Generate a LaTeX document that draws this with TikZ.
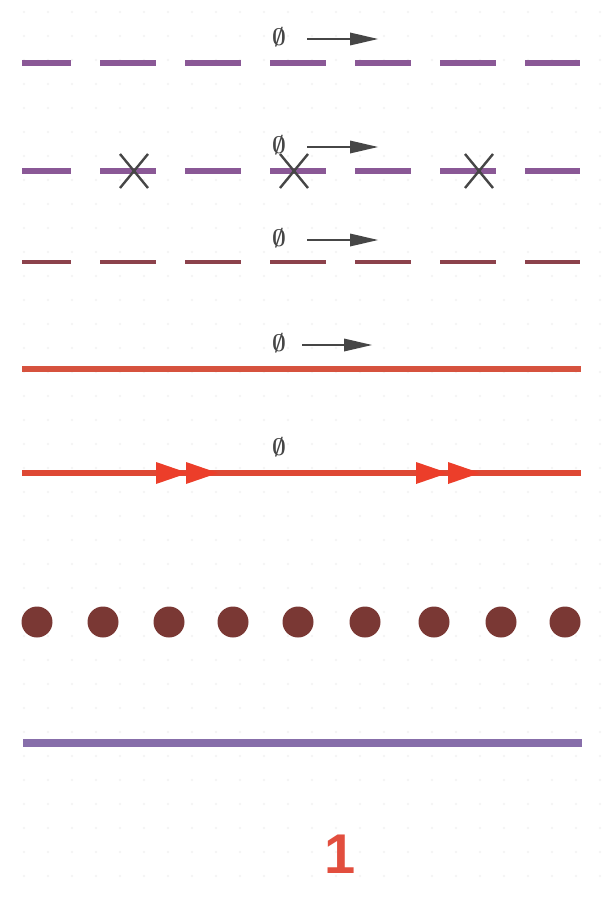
\documentclass[tikz,border=0pt]{standalone}
\usepackage{bm}
\usepackage{fontspec}
\newfontfamily\numfont{Liberation Sans}
\definecolor{dpurple}{RGB}{138,88,150}
\definecolor{dbrown}{RGB}{140,66,76}
\definecolor{sred}{RGB}{214,82,62}
\definecolor{ared}{RGB}{222,72,52}
\definecolor{headred}{RGB}{236,62,42}
\definecolor{dotbrown}{RGB}{122,56,52}
\definecolor{lpurple}{RGB}{135,110,170}
\definecolor{numred}{RGB}{226,78,62}
\definecolor{agray}{RGB}{70,70,70}
\tikzset{
  dashline/.style={line width=5.5pt, dash pattern=on 56pt off 29pt, dash phase=7pt},
  philabel/.style={inner sep=0pt, text=agray},
  smallarrow/.style={agray, line width=1.6pt},
  arrowhead/.style={fill=agray, draw=none},
  crossmark/.style={agray, line width=2.4pt},
  dotstyle/.style={circle, fill=dotbrown, minimum size=31pt, inner sep=0pt},
  redhead/.style={fill=headred, draw=none}
}
\newcommand{\phisym}{\scalebox{2.4}{$\bm{\emptyset}$}}
\begin{document}
\begin{tikzpicture}[x=1pt,y=-1pt]
\useasboundingbox (0,0) rectangle (608,899);
\fill[white] (0,0) rectangle (608,899);
% faint grid dots
\foreach \gx in {24,48,...,600} \foreach \gy in {12,36,...,890} \fill[black!5] (\gx,\gy) circle (1.2pt);

% Row 1
\node[philabel] (p1) at (279,37) {\phisym};
\coordinate (a1s) at (307,39); \coordinate (a1e) at (352,39);
\draw[smallarrow] (a1s) -- (a1e);
\fill[arrowhead] (378,39) -- (350,32.5) -- (350,45.5) -- cycle;
\coordinate (l1s) at (22,63); \coordinate (l1e) at (580,63);
\draw[dashline, dpurple] (l1s) -- (l1e);

% Row 2
\node[philabel] (p2) at (279,145) {\phisym};
\coordinate (a2s) at (307,147); \coordinate (a2e) at (352,147);
\draw[smallarrow] (a2s) -- (a2e);
\fill[arrowhead] (378,147) -- (350,140.5) -- (350,153.5) -- cycle;
\coordinate (l2s) at (22,171); \coordinate (l2e) at (580,171);
\draw[dashline, dpurple] (l2s) -- (l2e);
\foreach \cx in {134,294,479} {
  \draw[crossmark] (\cx-14,154) -- (\cx+14,188);
  \draw[crossmark] (\cx+14,154) -- (\cx-14,188);
}

% Row 3
\node[philabel] (p3) at (279,238) {\phisym};
\coordinate (a3s) at (307,240); \coordinate (a3e) at (352,240);
\draw[smallarrow] (a3s) -- (a3e);
\fill[arrowhead] (378,240) -- (350,233.5) -- (350,246.5) -- cycle;
\coordinate (l3s) at (22,262); \coordinate (l3e) at (580,262);
\draw[dashline, dbrown, line width=4.5pt] (l3s) -- (l3e);

% Row 4
\node[philabel] (p4) at (279,343) {\phisym};
\coordinate (a4s) at (302,345); \coordinate (a4e) at (346,345);
\draw[smallarrow] (a4s) -- (a4e);
\fill[arrowhead] (372,345) -- (344,338.5) -- (344,351.5) -- cycle;
\coordinate (l4s) at (22,369); \coordinate (l4e) at (581,369);
\draw[sred, line width=6pt] (l4s) -- (l4e);

% Row 5
\node[philabel] (p5) at (279,447) {\phisym};
\coordinate (l5s) at (22,473); \coordinate (l5e) at (581,473);
\draw[ared, line width=6pt] (l5s) -- (l5e);
\foreach \tx in {188,218,448,480} {
  \fill[redhead] (\tx,473) -- (\tx-32,462) -- (\tx-32,484) -- cycle;
}

% Row 6 dots
\foreach \dx [count=\i] in {37,103,169,233,298,365,434,501,565} {
  \node[dotstyle] (d\i) at (\dx,622) {};
}

% Row 7
\coordinate (l7s) at (23,743); \coordinate (l7e) at (582,743);
\draw[lpurple, line width=8.5pt] (l7s) -- (l7e);

% Number
\node[inner sep=0pt, text=numred, font=\numfont\bfseries\fontsize{56}{56}\selectfont] (num) at (340,854) {1};
\end{tikzpicture}
\end{document}
